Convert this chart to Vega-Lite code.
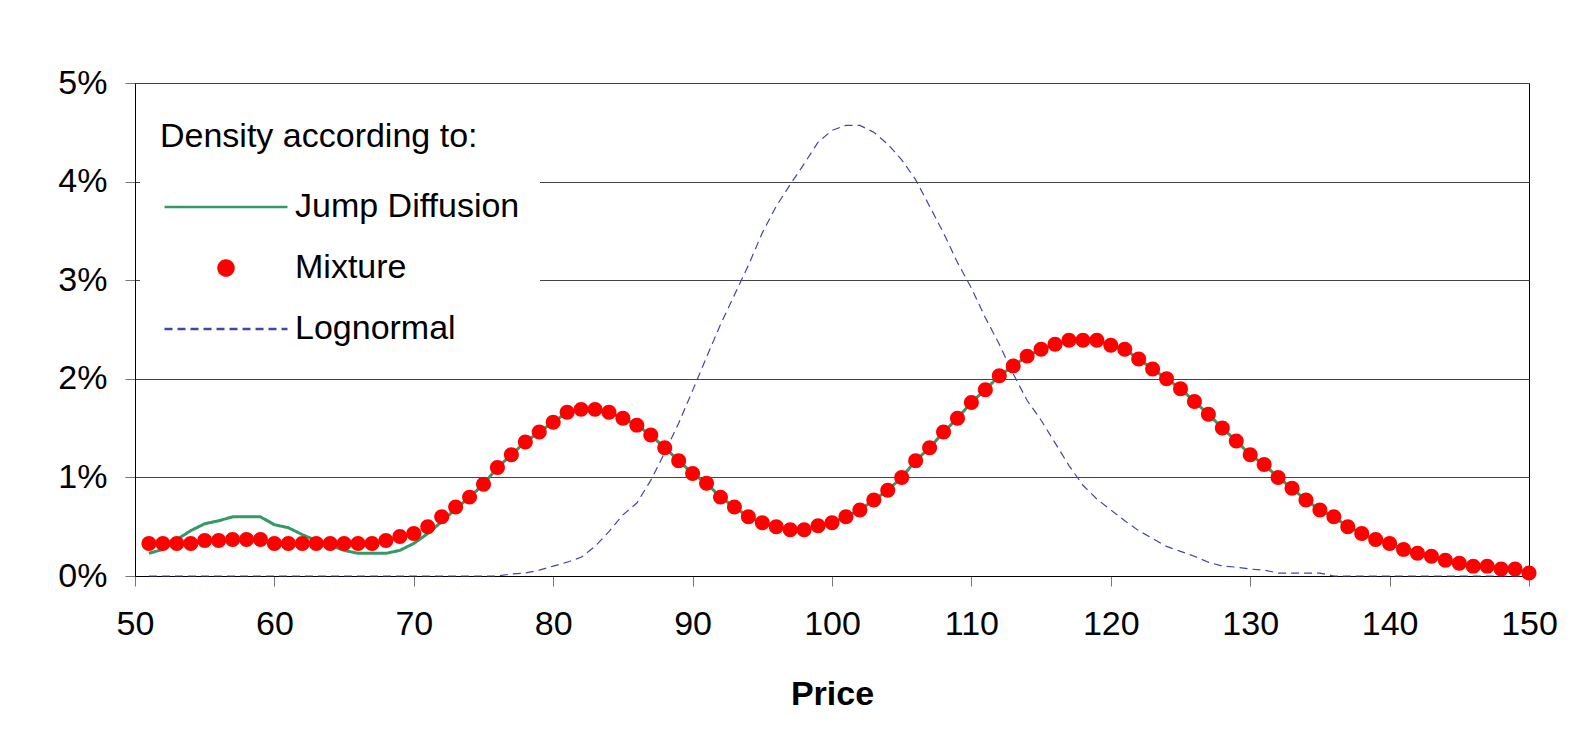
{
  "$schema": "https://vega.github.io/schema/vega-lite/v6.json",
  "width": 1394,
  "height": 493,
  "autosize": {"type": "none"},
  "padding": {"left": 135, "top": 83, "right": 66, "bottom": 178},
  "background": "white",
  "config": {
    "font": "Liberation Sans",
    "view": {"stroke": "black", "strokeWidth": 1},
    "legend": {
      "orient": "none",
      "legendX": 5,
      "legendY": 17,
      "padding": 20,
      "fillColor": "white",
      "titleFontSize": 34,
      "titleFontWeight": "normal",
      "titleColor": "black",
      "titlePadding": 36,
      "titleLimit": 600,
      "labelFontSize": 34,
      "labelColor": "black",
      "labelLimit": 600,
      "labelOffset": 52,
      "rowPadding": 27,
      "symbolSize": 420,
      "symbolStrokeWidth": 2.5,
      "symbolOffset": 49
    }
  },
  "data": {
    "values": [
      {"Price": 51, "Jump Diffusion": 0.23, "Mixture": 0.33, "Lognormal": 0},
      {"Price": 52, "Jump Diffusion": 0.27, "Mixture": 0.33, "Lognormal": 0},
      {"Price": 53, "Jump Diffusion": 0.37, "Mixture": 0.33, "Lognormal": 0},
      {"Price": 54, "Jump Diffusion": 0.46, "Mixture": 0.33, "Lognormal": 0},
      {"Price": 55, "Jump Diffusion": 0.53, "Mixture": 0.36, "Lognormal": 0},
      {"Price": 56, "Jump Diffusion": 0.56, "Mixture": 0.36, "Lognormal": 0},
      {"Price": 57, "Jump Diffusion": 0.60, "Mixture": 0.37, "Lognormal": 0},
      {"Price": 58, "Jump Diffusion": 0.60, "Mixture": 0.37, "Lognormal": 0},
      {"Price": 59, "Jump Diffusion": 0.60, "Mixture": 0.37, "Lognormal": 0},
      {"Price": 60, "Jump Diffusion": 0.52, "Mixture": 0.33, "Lognormal": 0},
      {"Price": 61, "Jump Diffusion": 0.49, "Mixture": 0.33, "Lognormal": 0},
      {"Price": 62, "Jump Diffusion": 0.42, "Mixture": 0.33, "Lognormal": 0},
      {"Price": 63, "Jump Diffusion": 0.36, "Mixture": 0.33, "Lognormal": 0},
      {"Price": 64, "Jump Diffusion": 0.31, "Mixture": 0.33, "Lognormal": 0},
      {"Price": 65, "Jump Diffusion": 0.26, "Mixture": 0.33, "Lognormal": 0},
      {"Price": 66, "Jump Diffusion": 0.23, "Mixture": 0.33, "Lognormal": 0},
      {"Price": 67, "Jump Diffusion": 0.23, "Mixture": 0.33, "Lognormal": 0},
      {"Price": 68, "Jump Diffusion": 0.23, "Mixture": 0.36, "Lognormal": 0},
      {"Price": 69, "Jump Diffusion": 0.26, "Mixture": 0.40, "Lognormal": 0},
      {"Price": 70, "Jump Diffusion": 0.33, "Mixture": 0.43, "Lognormal": 0},
      {"Price": 71, "Jump Diffusion": 0.43, "Mixture": 0.50, "Lognormal": 0},
      {"Price": 72, "Jump Diffusion": 0.55, "Mixture": 0.60, "Lognormal": 0},
      {"Price": 73, "Jump Diffusion": 0.68, "Mixture": 0.70, "Lognormal": 0},
      {"Price": 74, "Jump Diffusion": 0.80, "Mixture": 0.80, "Lognormal": 0},
      {"Price": 75, "Jump Diffusion": 0.93, "Mixture": 0.93, "Lognormal": 0},
      {"Price": 76, "Jump Diffusion": 1.10, "Mixture": 1.10, "Lognormal": 0},
      {"Price": 77, "Jump Diffusion": 1.23, "Mixture": 1.23, "Lognormal": 0.02},
      {"Price": 78, "Jump Diffusion": 1.36, "Mixture": 1.36, "Lognormal": 0.03},
      {"Price": 79, "Jump Diffusion": 1.46, "Mixture": 1.46, "Lognormal": 0.06},
      {"Price": 80, "Jump Diffusion": 1.56, "Mixture": 1.56, "Lognormal": 0.10},
      {"Price": 81, "Jump Diffusion": 1.66, "Mixture": 1.66, "Lognormal": 0.14},
      {"Price": 82, "Jump Diffusion": 1.69, "Mixture": 1.69, "Lognormal": 0.19},
      {"Price": 83, "Jump Diffusion": 1.69, "Mixture": 1.69, "Lognormal": 0.30},
      {"Price": 84, "Jump Diffusion": 1.66, "Mixture": 1.66, "Lognormal": 0.45},
      {"Price": 85, "Jump Diffusion": 1.60, "Mixture": 1.60, "Lognormal": 0.62},
      {"Price": 86, "Jump Diffusion": 1.53, "Mixture": 1.53, "Lognormal": 0.74},
      {"Price": 87, "Jump Diffusion": 1.43, "Mixture": 1.43, "Lognormal": 0.97},
      {"Price": 88, "Jump Diffusion": 1.30, "Mixture": 1.30, "Lognormal": 1.25},
      {"Price": 89, "Jump Diffusion": 1.17, "Mixture": 1.17, "Lognormal": 1.55},
      {"Price": 90, "Jump Diffusion": 1.04, "Mixture": 1.04, "Lognormal": 1.88},
      {"Price": 91, "Jump Diffusion": 0.94, "Mixture": 0.94, "Lognormal": 2.22},
      {"Price": 92, "Jump Diffusion": 0.80, "Mixture": 0.80, "Lognormal": 2.55},
      {"Price": 93, "Jump Diffusion": 0.70, "Mixture": 0.70, "Lognormal": 2.85},
      {"Price": 94, "Jump Diffusion": 0.60, "Mixture": 0.60, "Lognormal": 3.15},
      {"Price": 95, "Jump Diffusion": 0.54, "Mixture": 0.54, "Lognormal": 3.48},
      {"Price": 96, "Jump Diffusion": 0.50, "Mixture": 0.50, "Lognormal": 3.75},
      {"Price": 97, "Jump Diffusion": 0.47, "Mixture": 0.47, "Lognormal": 3.97},
      {"Price": 98, "Jump Diffusion": 0.47, "Mixture": 0.47, "Lognormal": 4.18},
      {"Price": 99, "Jump Diffusion": 0.51, "Mixture": 0.51, "Lognormal": 4.40},
      {"Price": 100, "Jump Diffusion": 0.54, "Mixture": 0.54, "Lognormal": 4.52},
      {"Price": 101, "Jump Diffusion": 0.60, "Mixture": 0.60, "Lognormal": 4.57},
      {"Price": 102, "Jump Diffusion": 0.67, "Mixture": 0.67, "Lognormal": 4.57},
      {"Price": 103, "Jump Diffusion": 0.77, "Mixture": 0.77, "Lognormal": 4.50},
      {"Price": 104, "Jump Diffusion": 0.87, "Mixture": 0.87, "Lognormal": 4.38},
      {"Price": 105, "Jump Diffusion": 1.00, "Mixture": 1.00, "Lognormal": 4.22},
      {"Price": 106, "Jump Diffusion": 1.17, "Mixture": 1.17, "Lognormal": 4.02},
      {"Price": 107, "Jump Diffusion": 1.30, "Mixture": 1.30, "Lognormal": 3.75},
      {"Price": 108, "Jump Diffusion": 1.46, "Mixture": 1.46, "Lognormal": 3.48},
      {"Price": 109, "Jump Diffusion": 1.60, "Mixture": 1.60, "Lognormal": 3.18},
      {"Price": 110, "Jump Diffusion": 1.76, "Mixture": 1.76, "Lognormal": 2.92},
      {"Price": 111, "Jump Diffusion": 1.89, "Mixture": 1.89, "Lognormal": 2.62},
      {"Price": 112, "Jump Diffusion": 2.03, "Mixture": 2.03, "Lognormal": 2.35},
      {"Price": 113, "Jump Diffusion": 2.13, "Mixture": 2.13, "Lognormal": 2.05},
      {"Price": 114, "Jump Diffusion": 2.23, "Mixture": 2.23, "Lognormal": 1.78},
      {"Price": 115, "Jump Diffusion": 2.30, "Mixture": 2.30, "Lognormal": 1.58},
      {"Price": 116, "Jump Diffusion": 2.35, "Mixture": 2.35, "Lognormal": 1.35},
      {"Price": 117, "Jump Diffusion": 2.39, "Mixture": 2.39, "Lognormal": 1.12},
      {"Price": 118, "Jump Diffusion": 2.39, "Mixture": 2.39, "Lognormal": 0.92},
      {"Price": 119, "Jump Diffusion": 2.39, "Mixture": 2.39, "Lognormal": 0.78},
      {"Price": 120, "Jump Diffusion": 2.34, "Mixture": 2.34, "Lognormal": 0.67},
      {"Price": 121, "Jump Diffusion": 2.30, "Mixture": 2.30, "Lognormal": 0.56},
      {"Price": 122, "Jump Diffusion": 2.20, "Mixture": 2.20, "Lognormal": 0.46},
      {"Price": 123, "Jump Diffusion": 2.10, "Mixture": 2.10, "Lognormal": 0.38},
      {"Price": 124, "Jump Diffusion": 2.00, "Mixture": 2.00, "Lognormal": 0.30},
      {"Price": 125, "Jump Diffusion": 1.90, "Mixture": 1.90, "Lognormal": 0.25},
      {"Price": 126, "Jump Diffusion": 1.77, "Mixture": 1.77, "Lognormal": 0.20},
      {"Price": 127, "Jump Diffusion": 1.64, "Mixture": 1.64, "Lognormal": 0.14},
      {"Price": 128, "Jump Diffusion": 1.50, "Mixture": 1.50, "Lognormal": 0.10},
      {"Price": 129, "Jump Diffusion": 1.37, "Mixture": 1.37, "Lognormal": 0.09},
      {"Price": 130, "Jump Diffusion": 1.23, "Mixture": 1.23, "Lognormal": 0.07},
      {"Price": 131, "Jump Diffusion": 1.13, "Mixture": 1.13, "Lognormal": 0.06},
      {"Price": 132, "Jump Diffusion": 1.00, "Mixture": 1.00, "Lognormal": 0.03},
      {"Price": 133, "Jump Diffusion": 0.89, "Mixture": 0.89, "Lognormal": 0.03},
      {"Price": 134, "Jump Diffusion": 0.77, "Mixture": 0.77, "Lognormal": 0.03},
      {"Price": 135, "Jump Diffusion": 0.67, "Mixture": 0.67, "Lognormal": 0.03},
      {"Price": 136, "Jump Diffusion": 0.60, "Mixture": 0.60, "Lognormal": 0},
      {"Price": 137, "Jump Diffusion": 0.50, "Mixture": 0.50, "Lognormal": 0},
      {"Price": 138, "Jump Diffusion": 0.43, "Mixture": 0.43, "Lognormal": 0},
      {"Price": 139, "Jump Diffusion": 0.37, "Mixture": 0.37, "Lognormal": 0},
      {"Price": 140, "Jump Diffusion": 0.33, "Mixture": 0.33, "Lognormal": 0},
      {"Price": 141, "Jump Diffusion": 0.27, "Mixture": 0.27, "Lognormal": 0},
      {"Price": 142, "Jump Diffusion": 0.23, "Mixture": 0.23, "Lognormal": 0},
      {"Price": 143, "Jump Diffusion": 0.20, "Mixture": 0.20, "Lognormal": 0},
      {"Price": 144, "Jump Diffusion": 0.16, "Mixture": 0.16, "Lognormal": 0},
      {"Price": 145, "Jump Diffusion": 0.13, "Mixture": 0.13, "Lognormal": 0},
      {"Price": 146, "Jump Diffusion": 0.10, "Mixture": 0.10, "Lognormal": 0},
      {"Price": 147, "Jump Diffusion": 0.10, "Mixture": 0.10, "Lognormal": 0},
      {"Price": 148, "Jump Diffusion": 0.07, "Mixture": 0.07, "Lognormal": 0},
      {"Price": 149, "Jump Diffusion": 0.07, "Mixture": 0.07, "Lognormal": 0},
      {"Price": 150, "Jump Diffusion": 0.03, "Mixture": 0.03, "Lognormal": 0}
    ]
  },
  "transform": [
    {"fold": ["Jump Diffusion", "Mixture", "Lognormal"], "as": ["Series", "Density"]}
  ],
  "encoding": {
    "x": {
      "field": "Price",
      "type": "quantitative",
      "scale": {"domain": [50, 150], "nice": false, "zero": false},
      "axis": {
        "values": [50, 60, 70, 80, 90, 100, 110, 120, 130, 140, 150],
        "title": "Price",
        "titleFontSize": 34,
        "titleFontWeight": "bold",
        "titleColor": "black",
        "titlePadding": 36,
        "labelFontSize": 34,
        "labelColor": "black",
        "labelPadding": 21,
        "labelFlush": false,
        "tickSize": 10,
        "tickColor": "#777777",
        "domainColor": "black",
        "grid": false
      }
    },
    "y": {
      "field": "Density",
      "type": "quantitative",
      "scale": {"domain": [0, 5], "nice": false},
      "axis": {
        "values": [0, 1, 2, 3, 4, 5],
        "labelExpr": "datum.value + '%'",
        "title": null,
        "labelFontSize": 34,
        "labelColor": "black",
        "labelPadding": 18,
        "tickSize": 10,
        "tickColor": "#777777",
        "domainColor": "black",
        "grid": true,
        "gridColor": "#444444",
        "gridWidth": 1
      }
    }
  },
  "layer": [
    {
      "transform": [{"filter": "datum.Series !== 'Mixture'"}],
      "mark": {"type": "line"},
      "encoding": {
        "color": {
          "field": "Series",
          "type": "nominal",
          "scale": {
            "domain": ["Jump Diffusion", "Mixture", "Lognormal"],
            "range": ["#339966", "#FF0000", "#4444AA"]
          },
          "legend": {"title": "Density according to:"}
        },
        "strokeDash": {
          "field": "Series",
          "type": "nominal",
          "scale": {
            "domain": ["Jump Diffusion", "Mixture", "Lognormal"],
            "range": [[1, 0], [1, 0], [8, 5]]
          },
          "legend": {"title": "Density according to:"}
        },
        "strokeWidth": {
          "condition": {"test": "datum.Series === 'Jump Diffusion'", "value": 3},
          "value": 1.2
        }
      }
    },
    {
      "transform": [{"filter": "datum.Series === 'Mixture'"}],
      "mark": {"type": "point", "filled": true, "opacity": 1, "size": 420, "strokeWidth": 0},
      "encoding": {
        "fill": {
          "field": "Series",
          "type": "nominal",
          "scale": {
            "domain": ["Jump Diffusion", "Mixture", "Lognormal"],
            "range": ["transparent", "#FF0000", "transparent"]
          },
          "legend": {"title": "Density according to:"}
        },
        "shape": {
          "field": "Series",
          "type": "nominal",
          "scale": {
            "domain": ["Jump Diffusion", "Mixture", "Lognormal"],
            "range": ["M-6,0L6,0", "M-0.73,0A0.73,0.73,0,1,1,0.73,0A0.73,0.73,0,1,1,-0.73,0Z", "M-6,0L6,0"]
          },
          "legend": {"title": "Density according to:"}
        }
      }
    }
  ]
}
